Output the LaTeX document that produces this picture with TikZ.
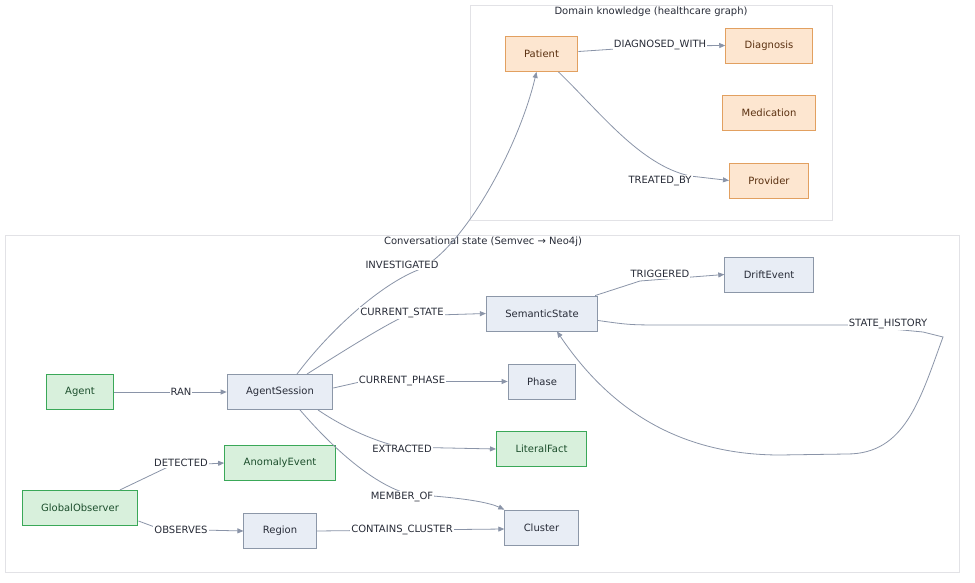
\documentclass[tikz,border=0pt]{standalone}
\usepackage{fontspec}
\setmainfont{DejaVu Sans}
\usetikzlibrary{calc}
\usetikzlibrary{positioning}
\usetikzlibrary{arrows.meta}
\definecolor{edgegray}{RGB}{138,148,168}
\definecolor{boxgray}{RGB}{226,226,230}
\definecolor{stateblue}{RGB}{232,237,245}
\definecolor{statedraw}{RGB}{140,151,168}
\definecolor{domainfill}{RGB}{253,230,208}
\definecolor{domaindraw}{RGB}{226,160,96}
\definecolor{domaintext}{RGB}{90,48,16}
\definecolor{greenfill}{RGB}{216,240,220}
\definecolor{greendraw}{RGB}{58,168,88}
\definecolor{greentext}{RGB}{28,78,44}
\definecolor{labeltext}{RGB}{40,44,56}

\begin{document}
\begin{tikzpicture}[%
  x=1pt, y=-1pt,
  >={Stealth[length=6pt,width=5pt,inset=0pt]},
  font=\fontsize{10}{12}\selectfont,
  entity/.style={rectangle, draw=statedraw, fill=stateblue, text=labeltext,
    line width=0.9pt, minimum height=35pt, inner xsep=19pt},
  domainbox/.style={entity, draw=domaindraw, fill=domainfill, text=domaintext},
  actorbox/.style={entity, draw=greendraw, fill=greenfill, text=greentext, line width=1.2pt},
  rel/.style={draw=edgegray, line width=0.8pt},
  rlabel/.style={fill=white, text=labeltext, inner sep=1pt},
  group/.style={draw=boxgray, line width=0.8pt},
]

  \fill[white] (0,0) rectangle (975,583);
  \useasboundingbox (0,0) rectangle (975,583);

  % the two groups
  \draw[group] (470,5) rectangle (832,220);
  \node[text=labeltext] (domainTitle) at (651,12) {Domain knowledge (healthcare graph)};
  \draw[group] (5,235) rectangle (959,572);
  \node[text=labeltext] (stateTitle) at (483,242) {Conversational state (Semvec → Neo4j)};

  % domain knowledge
  \node[domainbox] (patient)    at (541.5,54)  {Patient};
  \node[domainbox] (diagnosis)  at (769,45.5)  {Diagnosis};
  \node[domainbox] (medication) at (769,113)   {Medication};
  \node[domainbox] (provider)   at (769,180.5) {Provider};

  % conversational state
  \node[actorbox] (agent)    at (80,392)    {Agent};
  \node[entity]   (session)  at (280,392)   {AgentSession};
  \node[actorbox] (observer) at (80,508)    {GlobalObserver};
  \node[actorbox] (anomaly)  at (280,463)   {AnomalyEvent};
  \node[entity]   (region)   at (280,531)   {Region};
  \node[entity]   (semstate) at (542,313.5) {SemanticState};
  \node[entity]   (drift)    at (769,274.5) {DriftEvent};
  \node[entity]   (phase)    at (542,381.5) {Phase};
  \node[actorbox] (fact)     at (541.5,449) {LiteralFact};
  \node[entity]   (cluster)  at (541.5,527.5) {Cluster};

  % relations
  \draw[rel,->] (patient) -- (660,46) -- (diagnosis.west);
  \draw[rel,->] ([xshift=17pt]patient.south) .. controls (600,112) and (640,165) .. (690,176) -- (provider.west);
  \draw[rel,->] ([xshift=17pt]session.north) .. controls (330,330) and (380,285) .. (418,270)
    .. controls (462,250) and (518,150) .. ([xshift=-5pt]patient.south);
  \draw[rel,->] ([xshift=27pt]session.north) .. controls (345,350) and (385,325) .. (405,316) -- (semstate.west);
  \draw[rel,->] ([yshift=4pt]session.east) -- (362,381.5) -- (phase.west);
  \draw[rel,->] ([xshift=38pt]session.south) .. controls (340,425) and (370,440) .. (400,447) -- (fact.west);
  \draw[rel,->] ([xshift=20pt]session.south) .. controls (330,445) and (370,482) .. (405,493)
    -- (433,496) .. controls (470,499) and (490,503) .. (cluster.north west);
  \draw[rel,->] (agent) -- (session);
  \draw[rel,->] ([xshift=40pt]observer.north) -- (170,466) -- (anomaly.west);
  \draw[rel,->] ([yshift=-13pt]observer.east) -- (160,529) -- (region.west);
  \draw[rel,->] (region.east) -- ([yshift=-1.5pt]cluster.west);
  \draw[rel,->] ([xshift=-3pt]semstate.north east) -- (640,281) -- (drift.west);
  \draw[rel,->] ([yshift=-7pt]semstate.east) .. controls (630,325) .. (670,325) -- (850,325)
    -- (923,332) -- (943,337) .. controls (920,400) and (905,454) .. (847,454) -- (780,455)
    .. controls (680,455) and (610,410) .. ([xshift=15pt]semstate.south);

  % relation names
  \node[rlabel] (lDiagnosed)   at (660,45)  {DIAGNOSED\_WITH};
  \node[rlabel] (lTreated)     at (660,181) {TREATED\_BY};
  \node[rlabel] (lInvestig)    at (402,265) {INVESTIGATED};
  \node[rlabel] (lCurState)    at (402,313) {CURRENT\_STATE};
  \node[rlabel] (lCurPhase)    at (402,381) {CURRENT\_PHASE};
  \node[rlabel] (lRan)         at (181,392) {RAN};
  \node[rlabel] (lExtracted)   at (402,449) {EXTRACTED};
  \node[rlabel] (lMemberOf)    at (402,497) {MEMBER\_OF};
  \node[rlabel] (lDetected)    at (181,463) {DETECTED};
  \node[rlabel] (lObserves)    at (181,530) {OBSERVES};
  \node[rlabel] (lContains)    at (402,530) {CONTAINS\_CLUSTER};
  \node[rlabel] (lTriggered)   at (660,274) {TRIGGERED};
  \node[rlabel] (lHistory)     at (888,324) {STATE\_HISTORY};

\end{tikzpicture}
\end{document}
